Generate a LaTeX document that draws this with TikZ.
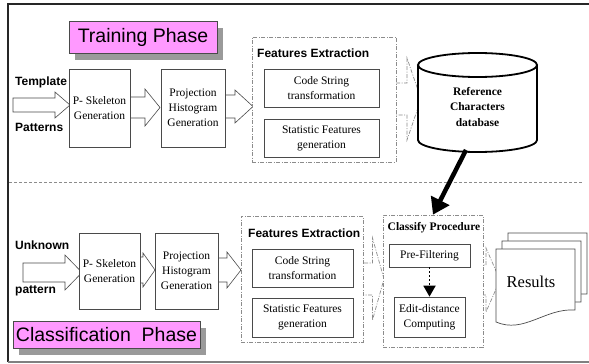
\documentclass[tikz,border=0pt]{standalone}
\usepackage{fontspec}
\setmainfont{Liberation Serif}
\newfontfamily\arialfont{Liberation Sans}
\usetikzlibrary{arrows.meta,shadows}

\definecolor{pinkfill}{HTML}{FF99FF}
\definecolor{linegray}{HTML}{4A4A4A}
\definecolor{dashgray}{HTML}{8C8C8C}
\definecolor{shadowgray}{HTML}{9A9A9A}

% block arrow: [style] x-start, x-head, x-tip, y-centre, body half height, head half height
\newcommand\blockarrow[7][]{%
  \draw[blockarrow,#1] ({#2},{#5-#6}) -- ({#3},{#5-#6}) -- ({#3},{#5-#7}) -- ({#4},{#5})
    -- ({#3},{#5+#7}) -- ({#3},{#5+#6}) -- ({#2},{#5+#6}) -- cycle;}

% document sheet with wavy lower edge: x-left, x-right, y-top
\newcommand\docsheet[3]{%
  \draw[docline] ({#1},{#3}) -- ({#2},{#3}) -- ({#2},{#3+61})
    .. controls ({#1+0.62*(#2-#1)},{#3+59}) and ({#1+0.354*(#2-#1)},{#3+85}) .. ({#1},{#3+73}) -- cycle;}

\tikzset{
  box/.style={draw=linegray, fill=white, line width=0.7pt, inner sep=0pt, align=center,
    font=\fontsize{11.5}{15}\selectfont},
  group/.style={draw=dashgray, fill=white, line width=0.7pt,
    dash pattern=on 4pt off 1.5pt on 1pt off 1.5pt, inner sep=0pt},
  phase/.style={draw=linegray, fill=pinkfill, line width=0.7pt, inner sep=0pt,
    font=\arialfont\fontsize{19.5}{22}\selectfont,
    drop shadow={shadow xshift=6pt, shadow yshift=-7pt, fill=shadowgray, opacity=1}},
  side/.style={anchor=west, inner sep=0pt, font=\arialfont\bfseries\fontsize{12}{14}\selectfont},
  grouptitle/.style={anchor=west, inner sep=0pt, font=\arialfont\bfseries\fontsize{12}{14}\selectfont},
  serifbold/.style={inner sep=0pt, align=center, font=\bfseries\fontsize{11.5}{15.5}\selectfont},
  blockarrow/.style={draw=linegray, fill=white, line width=0.6pt},
  dashdot/.style={draw=dashgray, line width=0.7pt, dash pattern=on 4pt off 1.5pt on 1pt off 1.5pt},
  docline/.style={draw=linegray, fill=white, line width=0.7pt},
}

\begin{document}
\begin{tikzpicture}[x=1pt, y=-1pt]
\useasboundingbox (0,0) rectangle (589,364);

% outer frame
\draw[line width=1.5pt, black!85] (8,362) -- (8,4) -- (589,4);
\draw[line width=1.2pt, gray] (8,362) -- (589,362);

% phase separator
\coordinate (sepL) at (9,182);
\coordinate (sepR) at (583,182);
\draw[dashgray, line width=0.8pt, dash pattern=on 3pt off 2pt] (sepL) -- (sepR);

% ---------- block arrows (drawn first, boxes cover their ends) ----------
% training row
\blockarrow{13}{55}{70}{105}{7}{13}
\blockarrow{125}{145}{160}{107.5}{10.5}{18.5}
\blockarrow{220}{235}{253}{106.5}{11.5}{16.5}
\blockarrow[dashdot, fill=white]{380}{407}{421}{99}{16}{41}
% classification row
\blockarrow{23}{65}{82}{272.5}{9.5}{17.5}
\blockarrow{135}{143}{155}{270}{13}{17}
\blockarrow{213}{227}{241}{270}{12}{18}
\blockarrow[dashdot, fill=white]{340}{372.5}{384}{279}{16}{41}
\blockarrow[dashdot, fill=white]{470}{486}{500}{280}{15}{32}

% ---------- training phase ----------
\node[phase, minimum width=148pt, minimum height=32pt] (train) at (143,37) {Training Phase};

\node[side] (tmpl) at (15,82) {Template};
\node[side] (patt) at (15,127) {Patterns};

\node[box, minimum width=61pt, minimum height=78pt] (skel1) at (99.5,108) {P- Skeleton\\Generation};
\node[box, minimum width=64pt, minimum height=78pt] (proj1) at (193,108) {Projection\\Histogram\\Generation};

\node[group, minimum width=144pt, minimum height=125pt] (feat1) at (324,99.5) {};
\node[grouptitle] (feat1t) at (257,53) {Features Extraction};
\node[box, minimum width=115pt, minimum height=38pt] (code1) at (321.5,88) {Code String\\transformation};
\node[box, minimum width=115pt, minimum height=38pt] (stat1) at (321.5,138) {Statistic Features\\generation};

% reference database cylinder
\draw[line width=1.8pt, fill=white] (418,65) -- (418,140)
  arc[start angle=180, end angle=360, x radius=59.5pt, y radius=12pt] -- (537,65);
\draw[line width=1.8pt, fill=white] (477.5,65) ellipse [x radius=59.5pt, y radius=12pt];
\node[serifbold] (db) at (477.5,107) {Reference\\Characters\\database};
\coordinate (dbfoot) at (466,150);

% ---------- classification phase ----------
\node[side] (unk) at (15,245) {Unknown};
\node[side] (pat2) at (15,291) {pattern};

\node[box, minimum width=61pt, minimum height=76pt] (skel2) at (109.5,271) {P- Skeleton\\Generation};
\node[box, minimum width=63pt, minimum height=76pt] (proj2) at (186.5,271) {Projection\\Histogram\\Generation};

\node[group, minimum width=122pt, minimum height=126pt] (feat2) at (302,279) {};
\node[grouptitle] (feat2t) at (248,233) {Features Extraction};
\node[box, minimum width=101pt, minimum height=38pt] (code2) at (302.5,268) {Code String\\transformation};
\node[box, minimum width=101pt, minimum height=39pt] (stat2) at (302.5,317.5) {Statistic Features\\generation};

\node[group, minimum width=100pt, minimum height=132pt] (cls) at (433,281) {};
\node[serifbold] (clst) at (434,228) {Classify Procedure};
\node[box, minimum width=81pt, minimum height=23pt] (pre) at (429.5,255.5) {Pre-Filtering};
\node[box, minimum width=71pt, minimum height=40pt] (edit) at (429.5,317) {Edit-distance\\Computing};

\draw[line width=1.8pt, dash pattern=on 1.8pt off 2.2pt, -{Triangle[length=11pt,width=12pt]}]
  (pre.south) -- (edit.north);

% results stack
\docsheet{508}{587}{233}
\docsheet{502}{581}{241}
\docsheet{496}{575}{249}
\node[inner sep=0pt, font=\fontsize{16.5}{18}\selectfont] (res) at (531,282) {Results};

\node[phase, minimum width=187pt, minimum height=27pt] (classif) at (106.5,334.5) {Classification\ \ Phase};

% database feeds the classifier
\draw[line width=4.5pt, -{Triangle[length=16pt,width=20pt]}] (dbfoot) -- (cls.north);
\end{tikzpicture}
\end{document}
